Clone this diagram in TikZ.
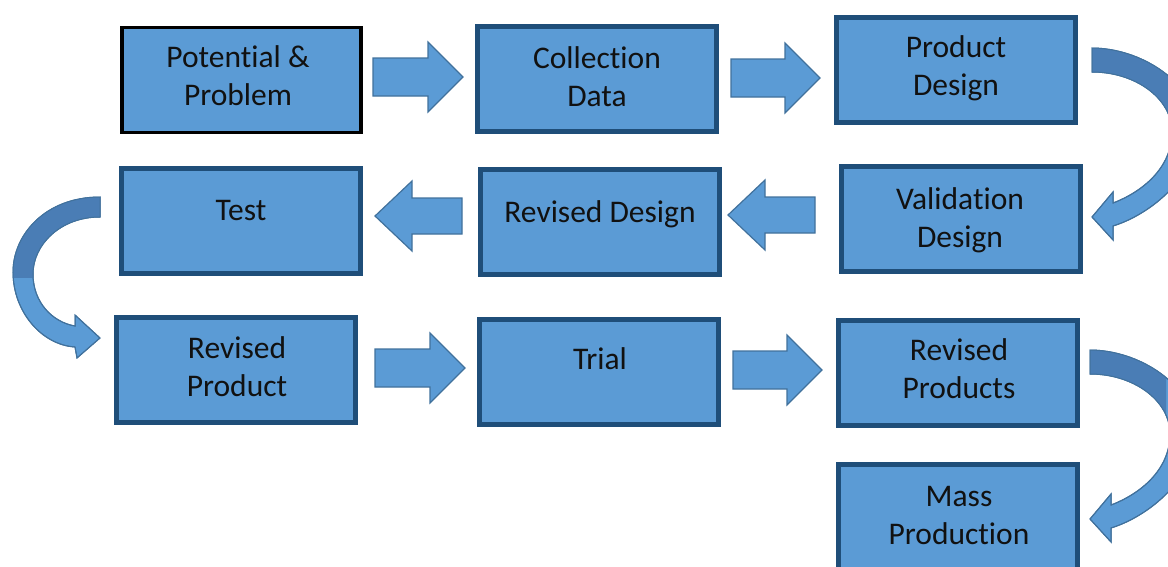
\documentclass[tikz,border=0pt]{standalone}
\usepackage{fontspec}
\setmainfont[Ligatures={NoCommon}]{Carlito}
\usetikzlibrary{calc}
\definecolor{boxfill}{HTML}{5B9BD5}
\definecolor{boxline}{HTML}{1F4E79}
\definecolor{arrfill}{HTML}{5B9BD5}
\definecolor{arrline}{HTML}{41719C}
\definecolor{arrdark}{HTML}{4A7DB5}
\definecolor{txt}{HTML}{111111}
% right block arrow: x-start, x-tip, y-centre
\newcommand\rblock[3]{%
  \draw[blockarrow] (#1,#3-19) -- (#2-35,#3-19) -- (#2-35,#3-35) -- (#2,#3)
    -- (#2-35,#3+35) -- (#2-35,#3+19) -- (#1,#3+19) -- cycle;}
% left block arrow: x-start (right end), x-tip, y-centre
\newcommand\lblock[3]{%
  \draw[blockarrow] (#1,#3-18) -- (#2+37,#3-18) -- (#2+37,#3-35) -- (#2,#3)
    -- (#2+37,#3+35) -- (#2+37,#3+18) -- (#1,#3+18) -- cycle;}
\begin{document}
\begin{tikzpicture}[x=1pt,y=-1pt,
  box/.style={draw=boxline, line width=5pt, fill=boxfill, inner sep=0pt,
    minimum width=239pt, minimum height=105pt},
  firstbox/.style={box, draw=black, line width=3.5pt},
  label/.style={text=txt, align=center, anchor=base,
    font=\fontsize{31.5}{38}\selectfont},
  blockarrow/.style={fill=arrfill, draw=arrline, line width=1.2pt, line join=miter},
  curvearrow/.style={fill=arrfill, draw=arrline, line width=1pt}]
\useasboundingbox (0,0) rectangle (1168,566);
\clip (0,0) rectangle (1168,566);

% boxes
\node[firstbox] (pp)  at (241.5,80)   {};
\node[box]      (cd)  at (597,78.5)   {};
\node[box]      (pd)  at (955.5,69.5) {};
\node[box]      (t)   at (240.5,220.5){};
\node[box]      (rd)  at (600,221.5)  {};
\node[box]      (vd)  at (961,218.5)  {};
\node[box]      (rp)  at (236,369.5)  {};
\node[box]      (tr)  at (599,371.5)  {};
\node[box]      (rps) at (958,372.5)  {};
\node[box]      (mp)  at (958,516.5)  {};

% texts (base anchor = baseline of the last line)
\node[label] (ppl)  at (238,105) {Potential \&\\Problem};
\node[label] (cdl)  at (597,106) {Collection\\Data};
\node[label] (pdl)  at (956,95)  {Product\\Design};
\node[label] (tl)   at (241,220) {Test};
\node[label] (rdl)  at (600,222) {Revised Design};
\node[label] (vdl)  at (960,247) {Validation\\Design};
\node[label] (rpl)  at (237,396) {Revised\\Product};
\node[label] (trl)  at (600,369) {Trial};
\node[label] (rpsl) at (959,398) {Revised\\Products};
\node[label] (mpl)  at (959,544) {Mass\\Production};

% straight block arrows
\rblock{373}{463}{77}
\rblock{731}{820}{78}
\lblock{462}{375}{216}
\lblock{815}{728}{215}
\rblock{375}{465}{368}
\rblock{733}{822}{370}

% curved arrow: right side (pd -> vd)
\def\rightcurve{(1092,48) .. controls (1140,48) and (1197,82) .. (1197,132)
  .. controls (1197,175) and (1152,214) .. (1113,226)
  -- (1113,240) -- (1092,217) -- (1113,192) -- (1113,203)
  .. controls (1142,192) and (1172,168) .. (1172,132)
  .. controls (1172,98) and (1135,72) .. (1092,72) -- cycle}
\path[curvearrow] \rightcurve;
\begin{scope}
  \clip (1080,30) rectangle (1168,143);
  \fill[arrdark] \rightcurve;
\end{scope}
\draw[arrline, line width=1pt] \rightcurve;

% curved arrow: right side (rps -> mp)
\begin{scope}[shift={(-2,302)}]
\path[curvearrow] \rightcurve;
\begin{scope}
  \clip (1080,30) rectangle (1168,140);
  \fill[arrdark] \rightcurve;
\end{scope}
\draw[arrline, line width=1pt] \rightcurve;
\end{scope}

% curved arrow: left side (t -> rp)
\def\leftcurve{(100,197) .. controls (45,197) and (13,235) .. (13,272)
  .. controls (13,312) and (42,345) .. (75,347)
  -- (77,358) -- (100,338) -- (75,315) -- (75,326)
  .. controls (52,322) and (33,302) .. (33,274)
  .. controls (33,245) and (60,217) .. (100,217) -- cycle}
\path[curvearrow] \leftcurve;
\begin{scope}
  \clip (0,180) rectangle (110,277);
  \fill[arrdark] \leftcurve;
\end{scope}
\draw[arrline, line width=1pt] \leftcurve;
\end{tikzpicture}
\end{document}
